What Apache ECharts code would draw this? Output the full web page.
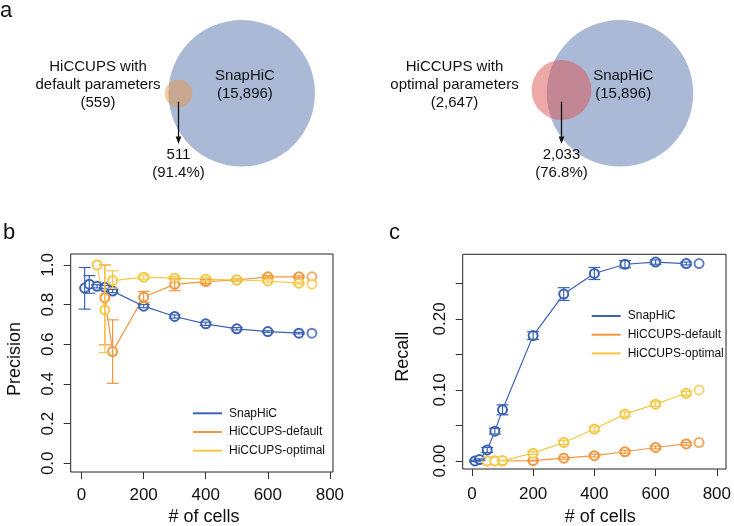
<!DOCTYPE html>
<html><head><meta charset="utf-8">
<script src="https://cdn.jsdelivr.net/npm/echarts@6/dist/echarts.min.js"></script>
<style>html,body{margin:0;padding:0;background:#fff}#c{width:734px;height:526px}</style>
</head><body><div id="c"></div>
<script>
// ---------- data ----------
const methods = ['SnapHiC', 'HiCCUPS-default', 'HiCCUPS-optimal'];
const cells = [10, 25, 50, 75, 100, 200, 300, 400, 500, 600, 700];
const allCells = 742;
const cellTicks = [0, 200, 400, 600, 800];
const precisionTicks = [0, 0.2, 0.4, 0.6, 0.8, 1.0];
const recallTicks = [0, 0.05, 0.10, 0.15, 0.20, 0.25];
const recallLabels = [0, 0.10, 0.20];

// Precision
const precSnap   = [0.883, 0.903, 0.892, 0.888, 0.868, 0.792, 0.740, 0.703, 0.678, 0.664, 0.656];
const precSnapLo = [0.777, 0.857, 0.884, 0.880, 0.860, 0.784, 0.732, 0.695, 0.672, 0.660, 0.652];
const precSnapHi = [0.987, 0.946, 0.900, 0.896, 0.876, 0.800, 0.748, 0.711, 0.684, 0.668, 0.660];
const precDef    = [null, null, null, 0.835, 0.563, 0.838, 0.902, 0.916, 0.924, 0.940, 0.940];
const precDefLo  = [null, null, null, 0.597, 0.403, 0.810, 0.870, 0.905, 0.918, 0.934, 0.935];
const precDefHi  = [null, null, null, 1.000, 0.723, 0.866, 0.930, 0.927, 0.930, 0.946, 0.945];
const precOpt    = [null, null, 1.000, 0.773, 0.921, 0.938, 0.933, 0.928, 0.924, 0.919, 0.908];
const precOptLo  = [null, null, null, 0.558, 0.883, 0.928, 0.925, 0.920, 0.919, 0.913, 0.903];
const precOptHi  = [null, null, null, 1.000, 0.970, 0.948, 0.941, 0.936, 0.929, 0.925, 0.913];
const precAll    = [0.656, 0.940, 0.903];

// Recall
const recSnap    = [0.000, 0.002, 0.0155, 0.042, 0.072, 0.1765, 0.235, 0.264, 0.277, 0.280, 0.278];
const recSnapLo  = [-0.001, 0.001, 0.012, 0.038, 0.065, 0.171, 0.226, 0.2555, 0.272, 0.277, 0.276];
const recSnapHi  = [0.001, 0.003, 0.019, 0.046, 0.079, 0.182, 0.244, 0.2725, 0.282, 0.283, 0.280];
const recDef     = [null, null, 0.000, 0.000, 0.000, 0.0005, 0.004, 0.0075, 0.013, 0.019, 0.024];
const recDefLo   = [null, null, null, null, null, 0.000, 0.0025, 0.0055, 0.011, 0.017, 0.022];
const recDefHi   = [null, null, null, null, null, 0.001, 0.0055, 0.0095, 0.015, 0.021, 0.026];
const recOpt     = [null, null, 0.000, 0.000, 0.0005, 0.011, 0.026, 0.045, 0.066, 0.080, 0.0953];
const recOptLo   = [null, null, null, null, 0.000, 0.009, 0.023, 0.042, 0.063, 0.077, 0.0925];
const recOptHi   = [null, null, null, null, 0.001, 0.013, 0.029, 0.048, 0.069, 0.083, 0.098];
const recAll     = [0.278, 0.026, 0.100];

// Venn counts: [SnapHiC total, HiCCUPS total, overlap]
const snapTotal = 15896;
const hiccupsDefault = 559, overlapDefault = 511;
const hiccupsOptimal = 2647, overlapOptimal = 2033;
const vennLabelDefault = ['HiCCUPS with', 'default parameters'];
const vennLabelOptimal = ['HiCCUPS with', 'optimal parameters'];

// ---------- styles ----------
const colors = ['#3b63b5', '#f4963f', '#f5c945'];
const FONT = '"Liberation Sans", Arial, Helvetica, sans-serif';
const TXT = '#111';

function pairs(ys) {
  const out = [];
  cells.forEach((x, i) => { if (ys[i] != null) out.push([x, ys[i]]); });
  return out;
}
function triples(lo, hi) {
  const out = [];
  cells.forEach((x, i) => { if (lo[i] != null) out.push([x, lo[i], hi[i]]); });
  return out;
}
function lineSeries(name, ys, g, color) {
  return {
    type: 'line', name, xAxisIndex: g, yAxisIndex: g, data: pairs(ys),
    symbol: 'emptyCircle', symbolSize: 9, showAllSymbol: true,
    lineStyle: { color, width: 1.2 }, itemStyle: { color, borderWidth: 1.2 },
    z: 2, animation: false
  };
}
function errSeries(lo, hi, g, color) {
  return {
    type: 'custom', xAxisIndex: g, yAxisIndex: g, data: triples(lo, hi),
    encode: { x: 0, y: [1, 2] }, z: 3, silent: true, animation: false,
    renderItem(params, api) {
      const x = api.value(0), a = api.value(1), b = api.value(2);
      const p1 = api.coord([x, a]), p2 = api.coord([x, b]);
      const w = 6, st = { stroke: color, lineWidth: 1.2 };
      return { type: 'group', children: [
        { type: 'line', shape: { x1: p1[0], y1: p1[1], x2: p2[0], y2: p2[1] }, style: st },
        { type: 'line', shape: { x1: p1[0] - w, y1: p1[1], x2: p1[0] + w, y2: p1[1] }, style: st },
        { type: 'line', shape: { x1: p2[0] - w, y1: p2[1], x2: p2[0] + w, y2: p2[1] }, style: st }
      ] };
    }
  };
}
function allSeries(vals, g) {
  return methods.map((m, i) => ({
    type: 'scatter', xAxisIndex: g, yAxisIndex: g, data: [[allCells, vals[i]]],
    symbol: 'emptyCircle', symbolSize: 9,
    itemStyle: { color: colors[i], borderWidth: 1.2 }, z: 2, animation: false
  }));
}

// ---------- venn ----------
const K = 73.3 / Math.sqrt(15896); // px per sqrt(count)
function lensArea(R, r, d) {
  if (d >= R + r) return 0;
  if (d <= Math.abs(R - r)) return Math.PI * Math.min(R, r) ** 2;
  const a1 = Math.acos((d * d + R * R - r * r) / (2 * d * R));
  const a2 = Math.acos((d * d + r * r - R * R) / (2 * d * r));
  return R * R * a1 + r * r * a2 - 0.5 * Math.sqrt((-d + R + r) * (d + R - r) * (d - R + r) * (d + R + r));
}
function solveDist(R, r, target) {
  let lo = Math.abs(R - r), hi = R + r;
  for (let i = 0; i < 60; i++) {
    const mid = (lo + hi) / 2;
    if (lensArea(R, r, mid) > target) lo = mid; else hi = mid;
  }
  return (lo + hi) / 2;
}
function vennRender(cfg) {
  return function (params, api) {
    const big = api.value(0), small = api.value(1), ov = api.value(2);
    const R = K * Math.sqrt(big), r = K * Math.sqrt(small);
    const d = solveDist(R, r, Math.PI * K * K * ov);
    const sx = cfg.cx - d;
    const tf = { fill: TXT, font: '15px ' + FONT, align: 'center', verticalAlign: 'middle' };
    const t = (text, x, y) => ({ type: 'text', style: Object.assign({ text, x, y }, tf) });
    const fmt = n => n.toLocaleString('en-US');
    return { type: 'group', children: [
      { type: 'circle', shape: { cx: cfg.cx, cy: cfg.cy, r: R }, style: { fill: '#aab9d6' } },
      { type: 'circle', shape: { cx: sx, cy: cfg.sy, r: r }, style: { fill: cfg.fill } },
      { type: 'line', shape: { x1: sx, y1: 101.7, x2: sx, y2: 138 }, style: { stroke: '#111', lineWidth: 1.3 } },
      { type: 'polygon', shape: { points: [[sx - 2.8, 136.5], [sx + 2.8, 136.5], [sx, 144]] }, style: { fill: '#111' } },
      t(cfg.label[0], cfg.lx, 66.7),
      t(cfg.label[1], cfg.lx, 85),
      t('(' + fmt(small) + ')', cfg.lx, 103.3),
      t('SnapHiC', cfg.cx + 3.2, 76),
      t('(' + fmt(big) + ')', cfg.cx + 3.2, 94.3),
      t(fmt(ov), sx, 155),
      t('(' + (ov / small * 100).toFixed(1) + '%)', sx, 173.3)
    ] };
  };
}

// ---------- axes ----------
function xAx(g, min, max, margin) {
  return {
    type: 'value', gridIndex: g, min, max,
    axisLine: { show: false, onZero: false }, splitLine: { show: false },
    axisTick: { show: true, length: 7, inside: false, customValues: cellTicks, lineStyle: { color: '#333', width: 1 } },
    axisLabel: { customValues: cellTicks, color: TXT, fontSize: 17, fontFamily: FONT, margin }
  };
}
function yAx(g, min, max, ticks, labels, dec) {
  return {
    type: 'value', gridIndex: g, min, max,
    axisLine: { show: false, onZero: false }, splitLine: { show: false },
    axisTick: { show: true, length: 7, inside: false, customValues: ticks, lineStyle: { color: '#333', width: 1 } },
    axisLabel: { customValues: labels, rotate: 90, color: TXT, fontSize: 17, fontFamily: FONT, margin: 13.5,
      formatter: v => Number(v).toFixed(dec) }
  };
}
function legend(left, top) {
  return {
    data: methods, orient: 'vertical', left, top, padding: 0,
    icon: 'rect', itemWidth: 29, itemHeight: 2, itemGap: 4.7,
    itemStyle: { borderWidth: 0 },
    textStyle: { color: TXT, fontSize: 12, fontFamily: FONT, lineHeight: 14, padding: [0, 0, 0, 2] },
    selectedMode: false
  };
}
function gtext(text, x, y, size, rot) {
  return { type: 'text', x, y, rotation: rot || 0,
    style: { text, fill: TXT, font: size + 'px ' + FONT, align: 'center', verticalAlign: 'middle' } };
}

const chart = echarts.init(document.getElementById('c'), null, { renderer: 'canvas' });
chart.setOption({
  backgroundColor: '#fff',
  animation: false,
  grid: [
    { left: 70.7, top: 254, width: 262.3, height: 218, show: true, borderColor: '#222', borderWidth: 1, backgroundColor: 'transparent' },
    { left: 462.7, top: 254.3, width: 269, height: 214.7, show: true, borderColor: '#222', borderWidth: 1, backgroundColor: 'transparent' }
  ],
  xAxis: [xAx(0, -35, 810, 15), xAx(1, -30, 830, 17)],
  yAxis: [yAx(0, -0.044, 1.055, precisionTicks, precisionTicks, 1), yAx(1, -0.0113, 0.291, recallTicks, recallLabels, 2)],
  legend: [legend(193, 406.3), legend(591.7, 309)],
  graphic: [
    gtext('a', 6, 10.6, 22), gtext('b', 9, 232.8, 22), gtext('c', 394.5, 232.8, 22),
    gtext('Precision', 15, 359, 18, Math.PI / 2),
    gtext('Recall', 403, 356.7, 18, Math.PI / 2),
    gtext('# of cells', 204, 516.7, 18),
    gtext('# of cells', 600.3, 516.7, 18)
  ],
  series: [
    { type: 'custom', coordinateSystem: 'none', data: [[snapTotal, hiccupsDefault, overlapDefault]], silent: true,
      renderItem: vennRender({ cx: 241.7, cy: 93.3, sy: 93.5, lx: 98, fill: 'rgba(229,151,75,0.5)', label: vennLabelDefault }) },
    { type: 'custom', coordinateSystem: 'none', data: [[snapTotal, hiccupsOptimal, overlapOptimal]], silent: true,
      renderItem: vennRender({ cx: 620, cy: 93.3, sy: 90, lx: 454.5, fill: 'rgba(219,83,81,0.5)', label: vennLabelOptimal }) },

    lineSeries(methods[0], precSnap, 0, colors[0]),
    lineSeries(methods[1], precDef, 0, colors[1]),
    lineSeries(methods[2], precOpt, 0, colors[2]),
    errSeries(precSnapLo, precSnapHi, 0, colors[0]),
    errSeries(precDefLo, precDefHi, 0, colors[1]),
    errSeries(precOptLo, precOptHi, 0, colors[2]),
    ...allSeries(precAll, 0),

    lineSeries(methods[0], recSnap, 1, colors[0]),
    lineSeries(methods[1], recDef, 1, colors[1]),
    lineSeries(methods[2], recOpt, 1, colors[2]),
    errSeries(recSnapLo, recSnapHi, 1, colors[0]),
    errSeries(recDefLo, recDefHi, 1, colors[1]),
    errSeries(recOptLo, recOptHi, 1, colors[2]),
    ...allSeries(recAll, 1)
  ]
});
</script></body></html>
